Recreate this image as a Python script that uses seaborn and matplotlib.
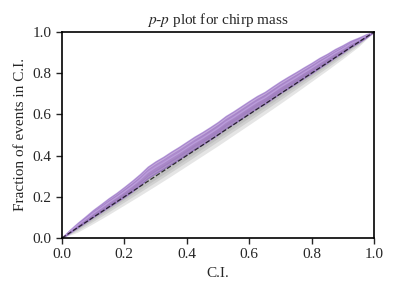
import numpy as np
import pandas as pd
import matplotlib
matplotlib.use("Agg")
import matplotlib.pyplot as plt
import seaborn as sns

# C.I. grid (x) and fraction of events in C.I. (purple median curve)
ci_levels = [0.0, 0.025, 0.05, 0.075, 0.10, 0.125, 0.15, 0.175, 0.20, 0.225, 0.25,
             0.275, 0.30, 0.325, 0.35, 0.375, 0.40, 0.425, 0.45, 0.475, 0.50,
             0.525, 0.55, 0.575, 0.60, 0.625, 0.65, 0.675, 0.70, 0.725, 0.75,
             0.775, 0.80, 0.825, 0.85, 0.875, 0.90, 0.925, 0.95, 0.975, 1.0]
frac_events = [0.0, 0.032, 0.062, 0.090, 0.119, 0.145, 0.172, 0.197, 0.224, 0.252, 0.283,
               0.318, 0.343, 0.365, 0.389, 0.412, 0.437, 0.462, 0.484, 0.508, 0.533,
               0.562, 0.585, 0.610, 0.635, 0.660, 0.680, 0.706, 0.732, 0.755, 0.778,
               0.802, 0.825, 0.850, 0.872, 0.897, 0.918, 0.942, 0.960, 0.981, 1.0]
# purple uncertainty half-width
frac_halfwidth = [0.0, 0.007, 0.011, 0.014, 0.017, 0.019, 0.021, 0.022, 0.024, 0.026, 0.027,
                  0.028, 0.029, 0.029, 0.030, 0.030, 0.030, 0.030, 0.030, 0.030, 0.030,
                  0.030, 0.030, 0.030, 0.030, 0.029, 0.029, 0.029, 0.028, 0.028, 0.027,
                  0.026, 0.025, 0.024, 0.022, 0.020, 0.018, 0.015, 0.012, 0.008, 0.0]
# grey binomial confidence bands (half widths for 3 levels), on a coarser grid
grey_x = [0.0, 0.05, 0.10, 0.15, 0.20, 0.25, 0.30, 0.35, 0.40, 0.45, 0.50,
          0.55, 0.60, 0.65, 0.70, 0.75, 0.80, 0.85, 0.90, 0.95, 1.0]
grey_68 = [0.0, 0.007, 0.010, 0.012, 0.013, 0.014, 0.015, 0.016, 0.016, 0.016, 0.016,
           0.016, 0.016, 0.016, 0.015, 0.014, 0.013, 0.012, 0.010, 0.007, 0.0]
grey_95 = [0.0, 0.014, 0.019, 0.023, 0.025, 0.027, 0.029, 0.030, 0.031, 0.031, 0.031,
           0.031, 0.031, 0.030, 0.029, 0.027, 0.025, 0.023, 0.019, 0.014, 0.0]
grey_997 = [0.0, 0.022, 0.030, 0.036, 0.040, 0.044, 0.047, 0.049, 0.050, 0.051, 0.052,
            0.051, 0.050, 0.049, 0.047, 0.044, 0.040, 0.036, 0.030, 0.022, 0.0]

sns.set_style("ticks")
plt.rcParams['font.family'] = ['Liberation Serif', 'DejaVu Serif']
plt.rcParams['mathtext.fontset'] = 'stix'

df = pd.DataFrame({"ci": ci_levels, "frac": frac_events})
x = np.array(ci_levels)
y = np.array(frac_events)
hw = np.array(frac_halfwidth)
gx = np.array(grey_x)

fig = plt.figure(figsize=(3.97, 2.96), dpi=100)
ax = fig.add_axes([0.156, 0.196, 0.786, 0.696])

for g in (grey_997, grey_95, grey_68):
    g = np.array(g)
    ax.fill_between(gx, gx - g, gx + g, color="grey", alpha=0.2, lw=0)

purple = "#9467bd"
ax.fill_between(x, y - hw, y + hw, color=purple, alpha=0.55, lw=1.0, edgecolor="#8456bf")
ax.fill_between(x, y - 0.55 * hw, y + 0.55 * hw, color=purple, alpha=0.4, lw=0.6,
                edgecolor="#9468c8")
sns.lineplot(data=df, x="ci", y="frac", ax=ax, color="#bb9ddc", lw=0.9)
ax.plot([0, 1], [0, 1], ls="--", color="black", lw=0.9, alpha=0.75)

ax.set_xlim(0, 1)
ax.set_ylim(0, 1)
ax.set_xticks(np.arange(0, 1.01, 0.2))
ax.set_yticks(np.arange(0, 1.01, 0.2))
ax.tick_params(labelsize=11, direction="out", length=4, width=1)
for s in ax.spines.values():
    s.set_linewidth(1.2)
    s.set_color("black")
ax.set_xlabel("C.I.", fontsize=11)
ax.set_ylabel("Fraction of events in C.I.", fontsize=11)
ax.set_title("$p$-$p$ plot for chirp mass", fontsize=11)

fig.savefig("out.png", dpi=100)
